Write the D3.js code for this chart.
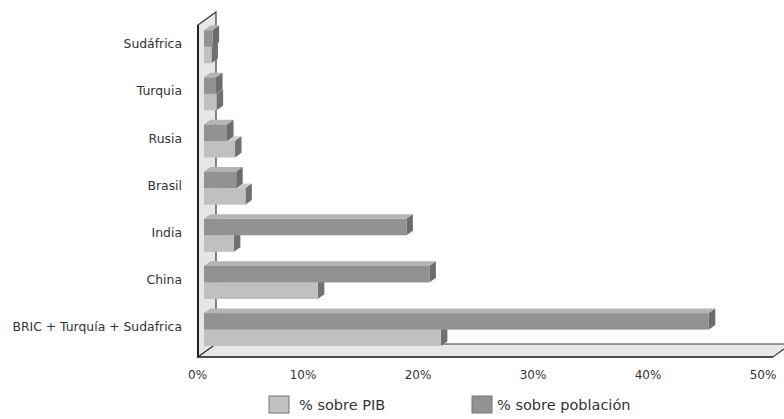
<!DOCTYPE html>
<html>
<head>
<meta charset="utf-8">
<script src="https://cdn.jsdelivr.net/npm/d3@7"></script>
<style>
  html, body { margin: 0; padding: 0; background: #fff; }
  svg text { font-family: "DejaVu Sans", sans-serif; fill: #333; }
</style>
</head>
<body>
<svg id="chart" width="784" height="419"></svg>
<script>
// Categories, top to bottom
const categories = ["Sudáfrica", "Turquia", "Rusia", "Brasil", "India", "China", "BRIC + Turquía + Sudafrica"];
// Share of each country (%)
const pctPIB = [0.65, 1.1, 2.7, 3.6, 2.6, 9.9, 20.6];
const pctPoblacion = [0.75, 1.05, 2.0, 2.8, 17.6, 19.6, 43.9];
const xTicks = [0, 10, 20, 30, 40, 50];
const seriesNames = ["% sobre PIB", "% sobre población"];

const svg = d3.select("#chart");

// Front plane of the 3D box
const x = d3.scaleLinear().domain([0, 50]).range([198, 773]);
const y = d3.scaleBand().domain(categories).range([27, 358]).paddingInner(0.3).paddingOuter(0.16);
const boxTop = 25, boxBottom = 357;
// Depth vector of the whole box, and placement of the bars inside it
const DX = 18, DY = -13;
const barOff = [DX / 3, DY / 3];        // front face of bars
const barDepth = [DX * 0.36, DY * 0.36]; // thickness of bars

const pts = a => a.map(p => p.join(",")).join(" ");
const edge = "#3a3a3a";

// Left side wall
svg.append("polygon")
  .attr("points", pts([[x(0), boxTop], [x(0) + DX, boxTop + DY], [x(0) + DX, boxBottom + DY], [x(0), boxBottom]]))
  .attr("fill", "#e6e6e6").attr("stroke", edge).attr("stroke-width", 1.2);
// Floor
svg.append("polygon")
  .attr("points", pts([[x(0), boxBottom], [x(50), boxBottom], [x(50) + DX, boxBottom + DY], [x(0) + DX, boxBottom + DY]]))
  .attr("fill", "#e8e8e8").attr("stroke", edge).attr("stroke-width", 1.2);
// Thicker front edges
svg.append("line").attr("x1", x(0)).attr("x2", x(0)).attr("y1", boxTop).attr("y2", boxBottom)
  .attr("stroke", "#222").attr("stroke-width", 2);
svg.append("line").attr("x1", x(0)).attr("x2", x(50)).attr("y1", boxBottom).attr("y2", boxBottom)
  .attr("stroke", "#333").attr("stroke-width", 1.5);

// Bars
const bw = y.bandwidth() / 2;
const series = [
  { key: "pib", values: pctPIB, off: bw, front: "#c0c0c0", topc: "#cdcdcd", side: "#717171" },
  { key: "pob", values: pctPoblacion, off: 0, front: "#929292", topc: "#b4b4b4", side: "#6c6c6c" }
];

function drawBar(g, v, y0, s) {
  const x0 = x(0) + barOff[0], x1 = x(v) + barOff[0];
  const yT = y0 + barOff[1], yB = yT + bw;
  const [dx, dy] = barDepth;
  g.append("polygon").attr("points", pts([[x0, yT], [x0 + dx, yT + dy], [x1 + dx, yT + dy], [x1, yT]]))
    .attr("fill", s.topc);
  g.append("polygon").attr("points", pts([[x1, yT], [x1 + dx, yT + dy], [x1 + dx, yB + dy], [x1, yB]]))
    .attr("fill", s.side);
  g.append("rect").attr("x", x0).attr("y", yT).attr("width", x1 - x0).attr("height", bw)
    .attr("fill", s.front);
}

const bars = svg.append("g");
categories.forEach((c, i) => {
  const g = bars.append("g");
  // lower (PIB) bar first so the upper bar covers its hidden top face
  drawBar(g, pctPIB[i], y(c) + series[0].off, series[0]);
  drawBar(g, pctPoblacion[i], y(c) + series[1].off, series[1]);
});

// Category labels
svg.append("g").selectAll("text").data(categories).join("text")
  .attr("x", 182)
  .attr("y", d => y(d) + barOff[1] + bw - 3)
  .attr("text-anchor", "end").attr("dominant-baseline", "central")
  .attr("font-size", 12.4).text(d => d);

// Value axis labels
svg.append("g").selectAll("text").data(xTicks).join("text")
  .attr("x", d => x(d) - 10)
  .attr("y", 375)
  .attr("text-anchor", (d, i) => i === 0 ? "start" : "middle")
  .attr("dominant-baseline", "central")
  .attr("font-size", 12).text(d => d + "%");

// Legend
const legend = svg.append("g");
const legendX = [269, 472];
const legendTextX = [299, 497];
const legendFill = ["#c0c0c0", "#929292"];
seriesNames.forEach((n, i) => {
  legend.append("rect").attr("x", legendX[i]).attr("y", 396).attr("width", 20).attr("height", 17)
    .attr("fill", legendFill[i]).attr("stroke", "#777").attr("stroke-width", 1);
  legend.append("text").attr("x", legendTextX[i]).attr("y", 405)
    .attr("dominant-baseline", "central").attr("font-size", 14.5).text(n);
});
</script>
</body>
</html>
